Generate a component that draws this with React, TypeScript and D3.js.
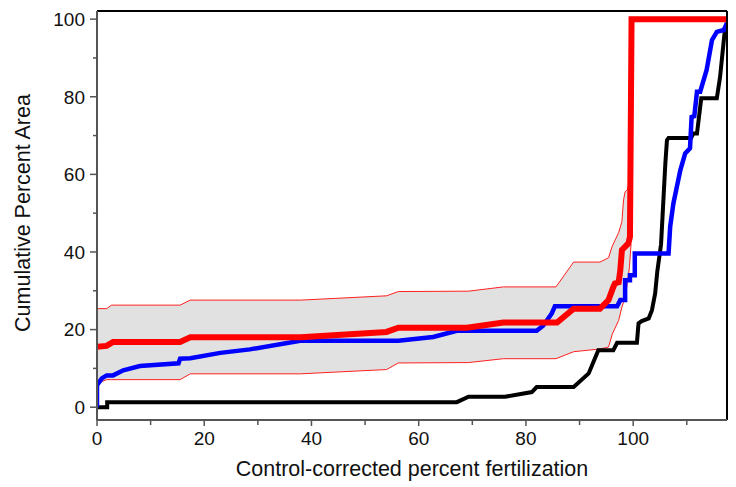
import React from "react";
import * as d3 from "d3";

// Cumulative percent area vs. control-corrected percent fertilization
const xMajorTicks = [0, 20, 40, 60, 80, 100];
const xMinorTicks = [10, 30, 50, 70, 90, 110];
const yMajorTicks = [0, 20, 40, 60, 80, 100];
const yMinorTicks = [10, 30, 50, 70, 90];

// Confidence band (x, upper, lower)
const bandX = [0, 1.8, 2.7, 15.5, 17.4, 38, 54, 56.2, 69.3, 75.8, 85.6, 88.9, 93.8, 95.4, 96.1, 97.3, 97.9, 98.2, 98.5, 98.9, 99.3, 99.6];
const bandUpper = [25.4, 25.4, 26.3, 26.3, 27.6, 27.6, 28.7, 29.8, 29.9, 31, 31, 37.4, 37.4, 38.5, 41.5, 45, 47.8, 53.4, 55.5, 56, 58, 60];
const bandLower = [6.1, 7.1, 7.1, 7.1, 8.6, 8.6, 9.7, 11.4, 11.5, 12.5, 12.5, 14.3, 15, 15.5, 18.8, 22.4, 25.8, 27, 28.4, 31.9, 36, 42];

// Black series
const blackSeries: [number, number][] = [
  [0, 0], [1.9, 0], [1.9, 1.3], [67.1, 1.3], [69.3, 2.7], [76.1, 2.7], [81.1, 3.9], [82, 5.2],
  [88.9, 5.2], [91.7, 8.7], [93.5, 14.7], [96.3, 14.7], [97, 16.6], [100.7, 16.6], [101, 21.6],
  [101.6, 22.2], [102.9, 22.9], [103.5, 25], [104.1, 29.3], [104.5, 35], [105.2, 42], [106, 62.8],
  [106.3, 68.8], [106.6, 69.4], [110.8, 69.4], [111.2, 70.5], [111.9, 70.5], [112.7, 79.6],
  [115.6, 79.6], [116.2, 85], [117.1, 97.2], [117.5, 99],
];

// Blue series
const blueSeries: [number, number][] = [
  [0, 0], [0, 5.7], [0.9, 7.4], [1.8, 8.2], [3, 8.2], [4.9, 9.5], [8, 10.6], [15.2, 11.3],
  [15.5, 12.5], [17.4, 12.6], [23, 14], [28.5, 14.9], [37.9, 17.1], [56.2, 17.1], [62.7, 18.1],
  [67.1, 19.7], [82, 19.7], [83.2, 21], [84.8, 24.1], [85.4, 26], [97, 26], [97.6, 27.6],
  [98.5, 27.6], [98.5, 32.7], [99.4, 32.7], [99.4, 34], [100.3, 34], [100.3, 39.6], [106.6, 39.6],
  [106.9, 46.5], [107.5, 52.5], [108.8, 61.1], [109.7, 65.4], [110.6, 66.7], [110.9, 74.8],
  [111.4, 75], [111.9, 81.3], [112.5, 81.3], [113.7, 86.9], [114.7, 94.6], [115.6, 96.7],
  [116.9, 97.2], [117.5, 99],
];

// Red series
const redSeries: [number, number][] = [
  [0, 15.6], [1.8, 15.8], [3, 16.8], [15.5, 16.8], [17.4, 18], [38, 18], [54, 19.4], [56.2, 20.5],
  [69, 20.5], [75.8, 21.8], [85.8, 21.8], [88.9, 25.4], [93.8, 25.4], [95.4, 27.6], [96.3, 31],
  [96.6, 31.9], [97.3, 32.2], [97.6, 35.3], [97.9, 40.5], [98.6, 41.5], [99.1, 42.2], [99.4, 43.9],
  [99.7, 100], [117.5, 100],
];

const W = 736;
const H = 487;
const left = 97;
const right = 727;
const top = 11;
const bottom = 420;
const FONT = "'Liberation Sans', Arial, sans-serif";

export default function App() {
  const x = d3.scaleLinear().domain([0, 117.5]).range([left, right]);
  const y = d3.scaleLinear().domain([-3.3, 102.1]).range([bottom, top]);

  const line = d3
    .line<[number, number]>()
    .x((d) => x(d[0]))
    .y((d) => y(d[1]));

  const bandIdx = d3.range(bandX.length);
  const area = d3
    .area<number>()
    .x((i) => x(bandX[i]))
    .y0((i) => y(bandLower[i]))
    .y1((i) => y(bandUpper[i]));
  const upperLine = d3
    .line<number>()
    .x((i) => x(bandX[i]))
    .y((i) => y(bandUpper[i]));
  const lowerLine = d3
    .line<number>()
    .x((i) => x(bandX[i]))
    .y((i) => y(bandLower[i]));

  const axisColor = "#555";

  return (
    <svg
      width={W}
      height={H}
      style={{ position: "absolute", left: 0, top: 0, background: "#fff" }}
      fontFamily={FONT}
    >
      <defs>
        <clipPath id="plot">
          <rect x={left} y={top} width={right - left} height={bottom - top} />
        </clipPath>
      </defs>

      <g clipPath="url(#plot)">
        <path d={area(bandIdx) || ""} fill="#e1e1e1" stroke="none" />
        <path d={upperLine(bandIdx) || ""} fill="none" stroke="#ff2020" strokeWidth={1} />
        <path d={lowerLine(bandIdx) || ""} fill="none" stroke="#ff2020" strokeWidth={1} />
        <path d={line(blackSeries) || ""} fill="none" stroke="#000" strokeWidth={4} strokeLinejoin="miter" strokeMiterlimit={2} />
        <path d={line(blueSeries) || ""} fill="none" stroke="#0000ff" strokeWidth={4.5} strokeLinejoin="miter" strokeMiterlimit={2} />
        <path d={line(redSeries) || ""} fill="none" stroke="#ff0000" strokeWidth={6} strokeLinejoin="miter" strokeMiterlimit={2} />
      </g>

      {/* frame */}
      <line x1={left} x2={right} y1={top} y2={top} stroke="#000" strokeWidth={2} />
      <line x1={right} x2={right} y1={top} y2={bottom} stroke="#000" strokeWidth={2} />
      <line x1={left} x2={left} y1={top} y2={bottom} stroke={axisColor} strokeWidth={2} />
      <line x1={left} x2={right} y1={bottom} y2={bottom} stroke={axisColor} strokeWidth={2} />

      {/* y axis */}
      {yMajorTicks.map((t) => (
        <g key={"ym" + t}>
          <line x1={left - 7} x2={left} y1={y(t)} y2={y(t)} stroke={axisColor} strokeWidth={1.5} />
          <text x={left - 12} y={y(t)} dy="0.36em" textAnchor="end" fontSize={19} fill="#111">
            {t}
          </text>
        </g>
      ))}
      {yMinorTicks.map((t) => (
        <line key={"yn" + t} x1={left - 4} x2={left} y1={y(t)} y2={y(t)} stroke={axisColor} strokeWidth={1.5} />
      ))}

      {/* x axis */}
      {xMajorTicks.map((t) => (
        <g key={"xm" + t}>
          <line x1={x(t)} x2={x(t)} y1={bottom} y2={bottom + 6} stroke={axisColor} strokeWidth={1.5} />
          <text x={x(t)} y={bottom + 25} textAnchor="middle" fontSize={19} fill="#111">
            {t}
          </text>
        </g>
      ))}
      {xMinorTicks.map((t) => (
        <line key={"xn" + t} x1={x(t)} x2={x(t)} y1={bottom} y2={bottom + 5} stroke={axisColor} strokeWidth={1.5} />
      ))}

      <text x={(left + right) / 2} y={476} textAnchor="middle" fontSize={21.5} fill="#111">
        Control-corrected percent fertilization
      </text>
      <text
        transform={`translate(30, 213) rotate(-90)`}
        textAnchor="middle"
        fontSize={21.5}
        fill="#111"
      >
        Cumulative Percent Area
      </text>
    </svg>
  );
}
